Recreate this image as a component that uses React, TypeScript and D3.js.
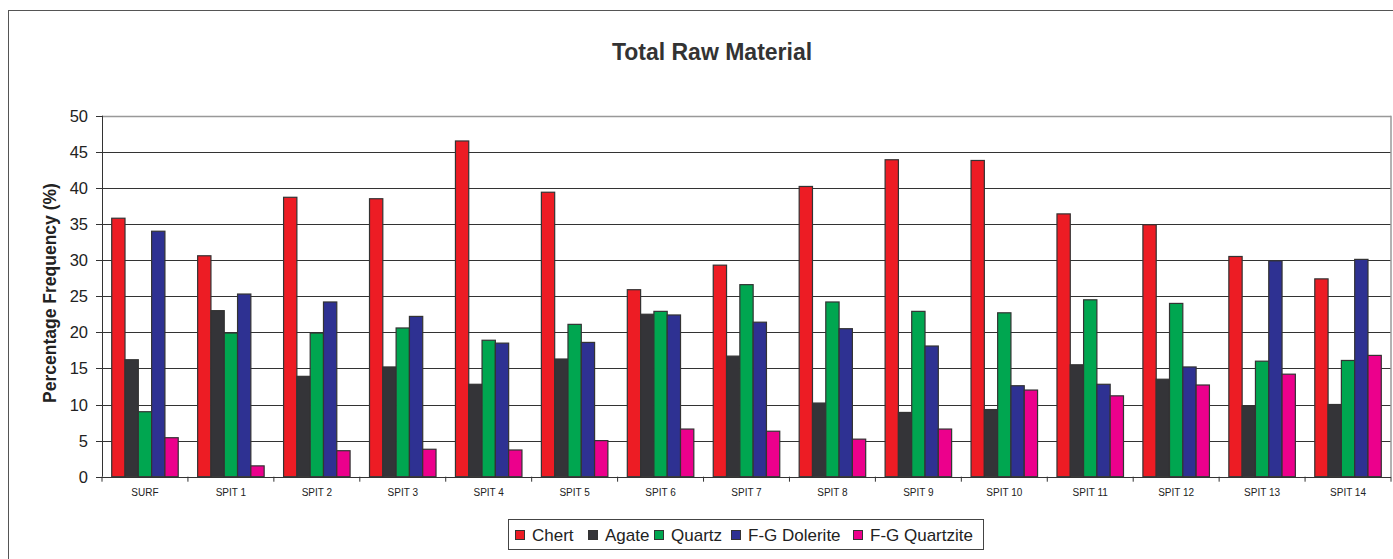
import React from "react";
import * as d3 from "d3";

const categories = ["SURF","SPIT 1","SPIT 2","SPIT 3","SPIT 4","SPIT 5","SPIT 6","SPIT 7","SPIT 8","SPIT 9","SPIT 10","SPIT 11","SPIT 12","SPIT 13","SPIT 14"];
const seriesNames = ["Chert","Agate","Quartz","F-G Dolerite","F-G Quartzite"];
const seriesColors = ["#ED1C24","#343438","#00A650","#2E3192","#EC008C"];
const chert = [35.8,30.6,38.7,38.5,46.5,39.4,25.9,29.3,40.2,43.9,43.8,36.4,34.9,30.5,27.4];
const agate = [16.2,23.0,13.9,15.2,12.8,16.3,22.5,16.7,10.2,8.9,9.3,15.5,13.5,9.8,10.0];
const quartz = [9.0,19.9,19.9,20.6,18.9,21.1,22.9,26.6,24.2,22.9,22.7,24.5,24.0,16.0,16.1];
const dolerite = [34.0,25.3,24.2,22.2,18.5,18.6,22.4,21.4,20.5,18.1,12.6,12.8,15.2,29.9,30.1];
const quartzite = [5.4,1.5,3.6,3.8,3.7,5.0,6.6,6.3,5.2,6.6,12.0,11.2,12.7,14.2,16.8];
const yTicks = [0,5,10,15,20,25,30,35,40,45,50];

const series = [chert, agate, quartz, dolerite, quartzite];

export default function App() {
  const W = 1393, H = 559;
  const left = 102, right = 1391, top = 115.7, bottom = 476.7;
  const font = "Liberation Sans, Arial, sans-serif";
  const x = d3.scaleBand<string>().domain(categories).range([left, right]).paddingInner(0).paddingOuter(0);
  const y = d3.scaleLinear().domain([0, 50]).range([bottom, top]);
  const bw = x.bandwidth();
  const barW = bw / 6.46;
  const groupOff = (bw - 5 * barW) / 2;

  const legendItems = seriesNames.map((n, i) => ({ n, c: seriesColors[i] }));
  const legendX = [515, 588, 654, 731, 853];

  return (
    <svg width={W} height={H} style={{ position: "absolute", left: 0, top: 0 }} fontFamily={font}>
      <rect x={0} y={0} width={W} height={H} fill="#fff" />
      <rect x={8.5} y={10.5} width={W + 20} height={H + 20} fill="none" stroke="#555" strokeWidth={1} />
      <text x={712} y={60} textAnchor="middle" fontSize={23} fontWeight="bold" fill="#333">Total Raw Material</text>
      {yTicks.map(t => (
        <g key={t}>
          {t > 0 && t < 50 && (
            <line x1={left} x2={right} y1={Math.round(y(t)) + 0.5} y2={Math.round(y(t)) + 0.5} stroke="#333" strokeWidth={1} />
          )}
          <line x1={left - 6} x2={left} y1={Math.round(y(t)) + 0.5} y2={Math.round(y(t)) + 0.5} stroke="#333" />
          <text x={left - 14} y={y(t) + 6} textAnchor="end" fontSize={16.5} fill="#222">{t}</text>
        </g>
      ))}
      <line x1={left} x2={right} y1={Math.round(top) + 0.5} y2={Math.round(top) + 0.5} stroke="#999" strokeWidth={1.5} />
      <line x1={right} x2={right} y1={top} y2={bottom} stroke="#999" strokeWidth={1.5} />
      {categories.map((c, ci) => (
        <g key={c}>
          {series.map((s, si) => {
            const bx = (x(c) as number) + groupOff + si * barW;
            return (
              <rect key={si} x={bx} y={y(s[ci])} width={barW} height={bottom - y(s[ci])}
                fill={seriesColors[si]} stroke="#333" strokeWidth={1.2} />
            );
          })}
          <text x={(x(c) as number) + bw / 2} y={496} textAnchor="middle" fontSize={10} fill="#222">{c}</text>
        </g>
      ))}
      {categories.concat([""]).map((_, i) => (
        <line key={i} x1={left + i * bw} x2={left + i * bw} y1={bottom} y2={bottom + 5} stroke="#333" />
      ))}
      <line x1={left + 0.5} x2={left + 0.5} y1={top} y2={bottom} stroke="#333" strokeWidth={1} />
      <line x1={left} x2={right} y1={Math.round(bottom) + 0.5} y2={Math.round(bottom) + 0.5} stroke="#333" strokeWidth={1} />
      <text transform={`translate(56,293) rotate(-90)`} textAnchor="middle" fontSize={17.5} fontWeight="bold" fill="#222">Percentage Frequency (%)</text>
      <rect x={508.5} y={519.5} width={475} height={30} fill="#fff" stroke="#444" strokeWidth={1} />
      {legendItems.map((it, i) => (
        <g key={it.n}>
          <rect x={legendX[i] + 0.5} y={530.5} width={9} height={9} fill={it.c} stroke="#333" strokeWidth={1} />
          <text x={legendX[i] + 17} y={541} fontSize={17} fill="#222">{it.n}</text>
        </g>
      ))}
    </svg>
  );
}
